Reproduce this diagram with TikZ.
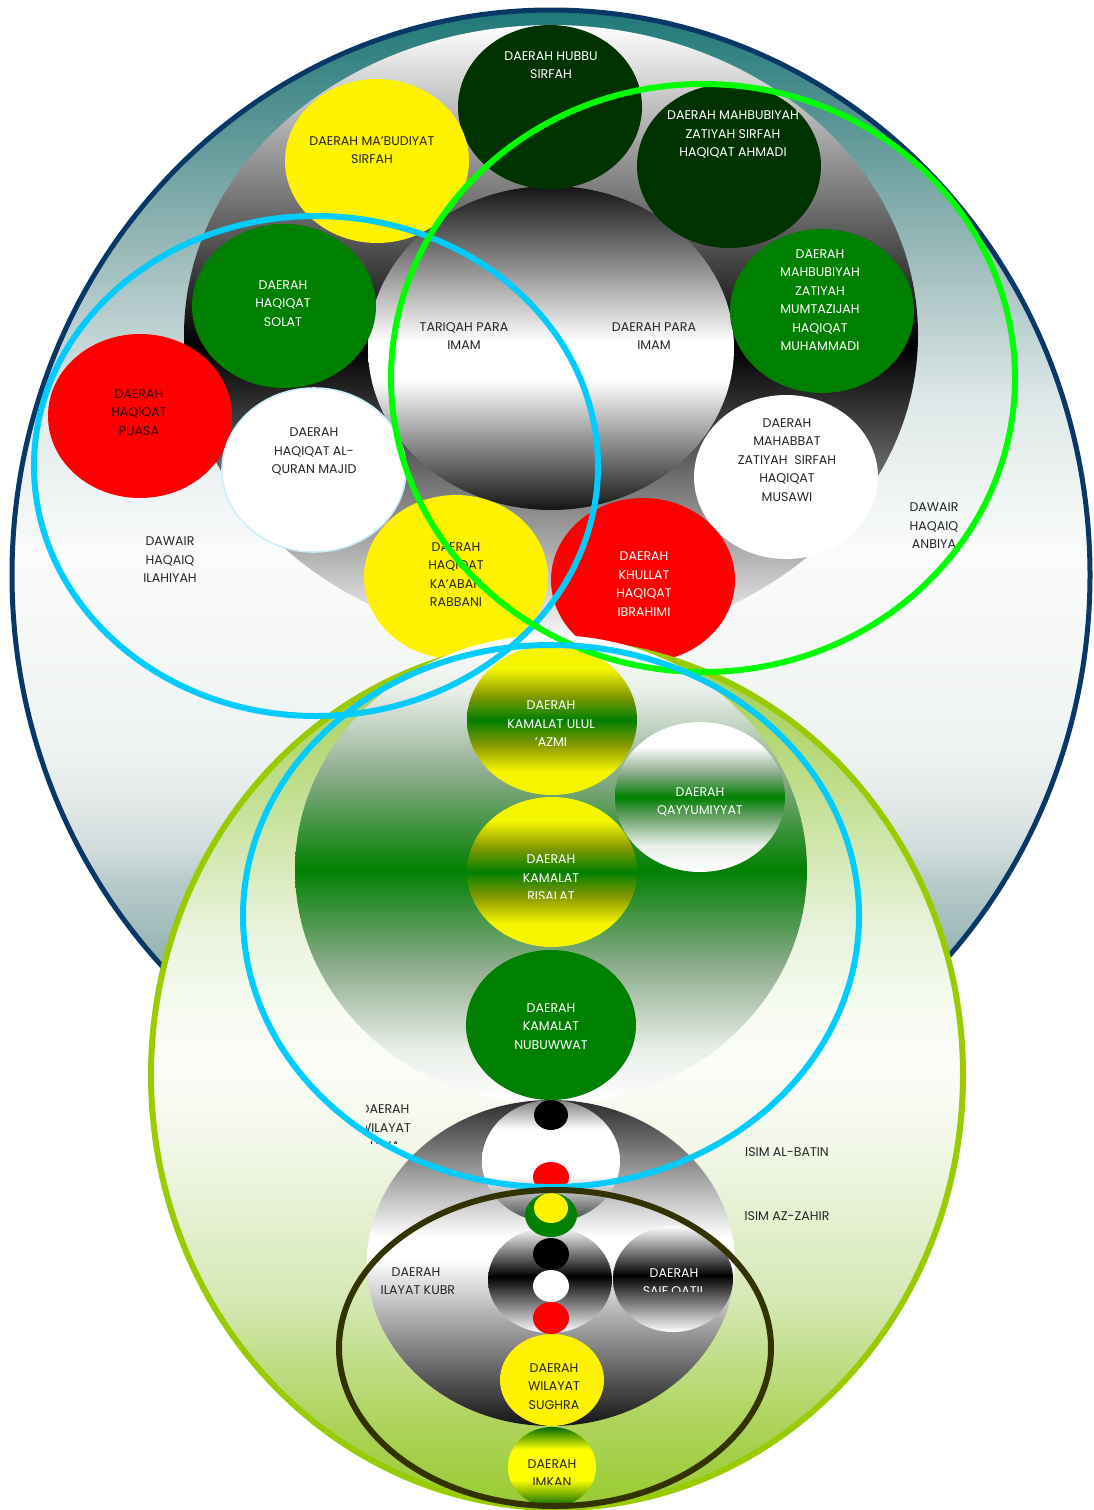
\documentclass[tikz,border=0pt]{standalone}
\usepackage{fontspec}
\setmainfont{Poppins}
\definecolor{navy}{HTML}{0A3866}
\definecolor{dkg}{HTML}{003300}
\definecolor{grn}{HTML}{008000}
\definecolor{cy}{HTML}{00CCFF}
\definecolor{lg}{HTML}{00FF00}
\definecolor{yg}{HTML}{99CC00}
\definecolor{ol}{HTML}{333300}
\definecolor{txt}{HTML}{262626}
% outer ellipse colours
\definecolor{o75}{HTML}{1E7878}
\definecolor{o71}{HTML}{4F8F8F}
\definecolor{o64}{HTML}{9AB9B9}
\definecolor{o58}{HTML}{DFE8E8}
\definecolor{o51}{HTML}{FAFBFB}
\definecolor{o47}{HTML}{F5F7F7}
\definecolor{o42}{HTML}{EEF2F2}
\definecolor{o40}{HTML}{E3E9E9}
\definecolor{o38}{HTML}{D0DBDB}
\definecolor{o36}{HTML}{B9CBCB}
\definecolor{o33}{HTML}{95B3B4}
\definecolor{o25}{HTML}{6F9799}
% lower ellipse colours
\definecolor{l75}{HTML}{A4CF52}
\definecolor{l71}{HTML}{ACD363}
\definecolor{l67}{HTML}{BFDD8A}
\definecolor{l62}{HTML}{D6E9B8}
\definecolor{l59}{HTML}{E8F2DA}
\definecolor{l54}{HTML}{F7FBF2}
\definecolor{l50}{HTML}{FBFDF8}
\definecolor{l46}{HTML}{F2F7E8}
\definecolor{l37}{HTML}{D5E8B5}
\definecolor{l30}{HTML}{B0D460}
\definecolor{l25}{HTML}{98CB30}
\definecolor{gg}{HTML}{8AAB8A}
\definecolor{gl}{HTML}{E8EEE8}
\definecolor{olv}{HTML}{8C9C00}
\definecolor{yy}{HTML}{F5F500}
\definecolor{dk}{HTML}{141414}

\pgfdeclareverticalshading{outerSh}{100bp}{color(0bp)=(o25); color(25bp)=(o25); color(33bp)=(o33); color(36.5bp)=(o36); color(37.8bp)=(o38); color(40bp)=(o40); color(42.3bp)=(o42); color(46.7bp)=(o47); color(51bp)=(o51); color(57.7bp)=(o58); color(64.4bp)=(o64); color(71bp)=(o71); color(75bp)=(o75); color(100bp)=(o75)}
\pgfdeclareverticalshading{grayBig}{100bp}{color(0bp)=(white); color(25bp)=(white); color(49bp)=(black); color(75bp)=(white); color(100bp)=(white)}
\pgfdeclareverticalshading{paraSh}{100bp}{color(0bp)=(dk); color(25bp)=(dk); color(45bp)=(white); color(51bp)=(white); color(75bp)=(dk); color(100bp)=(dk)}
\pgfdeclareverticalshading{lowSh}{100bp}{color(0bp)=(l25); color(25bp)=(l25); color(30.4bp)=(l30); color(37bp)=(l37); color(46bp)=(l46); color(50.6bp)=(l50); color(53.6bp)=(l54); color(58.7bp)=(l59); color(62.2bp)=(l62); color(66.9bp)=(l67); color(71.5bp)=(l71); color(75bp)=(l75); color(100bp)=(l75)}
\pgfdeclareverticalshading{greenSh}{100bp}{color(0bp)=(white); color(25bp)=(white); color(31bp)=(gl); color(40bp)=(gg); color(50bp)=(grn); color(60bp)=(gg); color(69bp)=(gl); color(75bp)=(white); color(100bp)=(white)}
\pgfdeclareverticalshading{ygSh}{100bp}{color(0bp)=(yy); color(25bp)=(yy); color(33bp)=(yy); color(41.5bp)=(olv); color(50bp)=(grn); color(58.5bp)=(olv); color(67bp)=(yy); color(75bp)=(yy); color(100bp)=(yy)}
\pgfdeclareverticalshading{qaySh}{100bp}{color(0bp)=(white); color(25bp)=(white); color(34bp)=(gl); color(44bp)=(gg!70!grn); color(50bp)=(grn); color(58bp)=(gg); color(67bp)=(white); color(75bp)=(white); color(100bp)=(white)}
\pgfdeclareverticalshading{lowGray}{100bp}{color(0bp)=(dk); color(25bp)=(dk); color(50.5bp)=(white); color(54bp)=(white); color(75bp)=(dk!90!white); color(100bp)=(dk)}
\pgfdeclareverticalshading{upInner}{100bp}{color(0bp)=(black!75); color(25bp)=(black!75); color(44bp)=(white); color(63bp)=(white); color(75bp)=(black!50); color(100bp)=(black!50)}
\pgfdeclareverticalshading{lowInner}{100bp}{color(0bp)=(white); color(25bp)=(white); color(51.7bp)=(black); color(75bp)=(white); color(100bp)=(white)}
\pgfdeclareverticalshading{imkSh}{100bp}{color(0bp)=(grn!80!black); color(25bp)=(grn!80!black); color(42bp)=(yellow); color(61bp)=(yellow); color(75bp)=(grn!85!black); color(100bp)=(grn!85!black)}

\begin{document}
\begin{tikzpicture}[x=0.5pt,y=-0.5pt,
  lbl/.style={align=center, font=\fontsize{6.3}{9.25}\selectfont, inner sep=0pt, text=txt},
  wl/.style={lbl, text=white},
  cr/.style={x radius=46pt, y radius=41pt},
  mid/.style={x radius=42.5pt, y radius=37.5pt},
  dot/.style={x radius=9pt, y radius=8pt},
  ring/.style={line width=3pt}]
\useasboundingbox (0,0) rectangle (1093,1510);

% ---- upper group ----
\path[shade, shading=outerSh, draw=navy, line width=2.5pt] (551,575) ellipse [x radius=269.5pt, y radius=282.5pt];
\path[shade, shading=grayBig] (551,335) ellipse [x radius=183.5pt, y radius=155pt];
\path[shade, shading=paraSh] (551,348) ellipse [x radius=91.5pt, y radius=81pt];
\path[fill=dkg] (550,107) ellipse [cr];
\path[fill=yellow] (377,161) ellipse [cr];
\path[fill=dkg] (729,166) ellipse [cr];
\path[fill=grn] (284,306) ellipse [cr];
\path[fill=grn] (822,311) ellipse [cr];
\path[fill=red] (140,416) ellipse [cr];
\path[fill=white, draw=cyan!20, line width=0.8pt] (314,470) ellipse [cr];
\path[fill=white] (786,477) ellipse [cr];
\path[fill=yellow] (456,577) ellipse [cr];
\path[fill=red] (643,580) ellipse [cr];

\node[wl] (thubbu) at (551,65) {DAERAH HUBBU\\SIRFAH};
\node[lbl] (tmab) at (372,150) {DAERAH MA’BUDIYAT\\SIRFAH};
\node[wl] (tahm) at (733,134.5) {DAERAH MAHBUBIYAH\\ZATIYAH SIRFAH\\HAQIQAT AHMADI};
\node[wl] (tsol) at (283,303.5) {DAERAH\\HAQIQAT\\SOLAT};
\node[lbl] (ttar) at (464,336) {TARIQAH PARA\\IMAM};
\node[lbl] (tpara) at (654,336) {DAERAH PARA\\IMAM};
\node[wl] (tmuh) at (820,300) {DAERAH\\MAHBUBIYAH\\ZATIYAH\\MUMTAZIJAH\\HAQIQAT\\MUHAMMADI};
\node[lbl, text=black!80!red] (tpua) at (139,412.5) {DAERAH\\HAQIQAT\\PUASA};
\node[lbl] (tqur) at (314,451.5) {DAERAH\\HAQIQAT AL-\\QURAN MAJID};
\node[lbl] (tmus) at (787,460) {DAERAH\\MAHABBAT\\ZATIYAH~ SIRFAH\\HAQIQAT\\MUSAWI};
\node[lbl] (tkaa) at (456,574.5) {DAERAH\\HAQIQAT\\KA’ABAH\\RABBANI};
\node[wl] (tibr) at (644,584) {DAERAH\\KHULLAT\\HAQIQAT\\IBRAHIMI};
\node[lbl] (dil) at (170,560) {DAWAIR\\HAQAIQ\\ILAHIYAH};
\node[lbl] (dan) at (934,526) {DAWAIR\\HAQAIQ\\ANBIYA};

% ---- lower group ----
\path[shade, shading=lowSh, draw=yg, line width=3pt] (557,1075) ellipse [x radius=203pt, y radius=216.5pt];
\path[shade, shading=greenSh] (551,870) ellipse [x radius=128pt, y radius=117.5pt];
\path[shade, shading=ygSh] (552,720) ellipse [mid];
\path[shade, shading=qaySh] (700,797) ellipse [mid];
\path[shade, shading=ygSh] (552,872) ellipse [mid];
\path[fill=grn] (551,1025) ellipse [mid];

\node[wl] (tulu) at (551,724) {DAERAH\\KAMALAT ULUL\\‘AZMI};
\begin{scope}
  \clip (600,770) rectangle (800,815);
  \node[wl] (tqay) at (700,802) {DAERAH\\QAYYUMIYYAT};
\end{scope}
\begin{scope}
  \clip (460,840) rectangle (640,898);
  \node[wl] (tris) at (551,878) {DAERAH\\KAMALAT\\RISALAT};
\end{scope}
\node[wl] (tnub) at (551,1026.5) {DAERAH\\KAMALAT\\NUBUWWAT};

\path[shade, shading=lowGray] (551,1263) ellipse [x radius=92pt, y radius=81.5pt];
\path[shade, shading=upInner] (551,1161) ellipse [x radius=34.5pt, y radius=30.5pt];
\path[fill=black] (551,1115) ellipse [x radius=8.5pt, y radius=7.5pt];
\path[fill=white] (551,1146) ellipse [dot];
\path[fill=red] (551,1177) ellipse [x radius=9pt, y radius=7.5pt];
\path[shade, shading=lowInner] (550,1280) ellipse [x radius=31pt, y radius=26.5pt];
\path[shade, shading=lowInner] (673,1279) ellipse [x radius=30pt, y radius=26.5pt];
\path[fill=grn] (551,1215) ellipse [x radius=13pt, y radius=11pt];
\path[fill=yellow] (551,1208) ellipse [x radius=8.5pt, y radius=7.5pt];
\path[fill=black] (551,1254) ellipse [dot];
\path[fill=white] (551,1286) ellipse [dot];
\path[fill=red] (551,1318) ellipse [dot];
\path[fill=yellow] (552,1380) ellipse [x radius=26pt, y radius=23pt];
\path[shade, shading=imkSh] (552,1467) ellipse [x radius=22pt, y radius=20pt];

\begin{scope}
  \clip (366,1095) rectangle (470,1143);
  \node[lbl] (tulya) at (385,1128) {DAERAH\\WILAYAT\\ULYA};
\end{scope}
\begin{scope}
  \clip (381,1255) rectangle (454,1305);
  \node[lbl] (tkub) at (416,1281) {DAERAH\\WILAYAT KUBRA};
\end{scope}
\begin{scope}
  \clip (600,1255) rectangle (750,1291);
  \node[wl] (tsaif) at (674,1283) {DAERAH\\SAIF QATIL};
\end{scope}
\node[lbl] (tsug) at (554,1386.5) {DAERAH\\WILAYAT\\SUGHRA};
\begin{scope}
  \clip (500,1450) rectangle (600,1484);
  \node[lbl] (timk) at (552,1473) {DAERAH\\IMKAN};
\end{scope}
\node[lbl] (batin) at (787,1152) {ISIM AL-BATIN};
\node[lbl] (zahir) at (787,1216) {ISIM AZ-ZAHIR};

% ---- rings ----
\draw[ring, cy] (316,466) ellipse [x radius=141pt, y radius=125pt];
\draw[ring, lg] (703,378) ellipse [x radius=156pt, y radius=147pt];
\draw[ring, cy] (551,916) ellipse [x radius=154pt, y radius=135.5pt];
\draw[ring, ol] (555,1348) ellipse [x radius=108pt, y radius=79pt];
\end{tikzpicture}
\end{document}
